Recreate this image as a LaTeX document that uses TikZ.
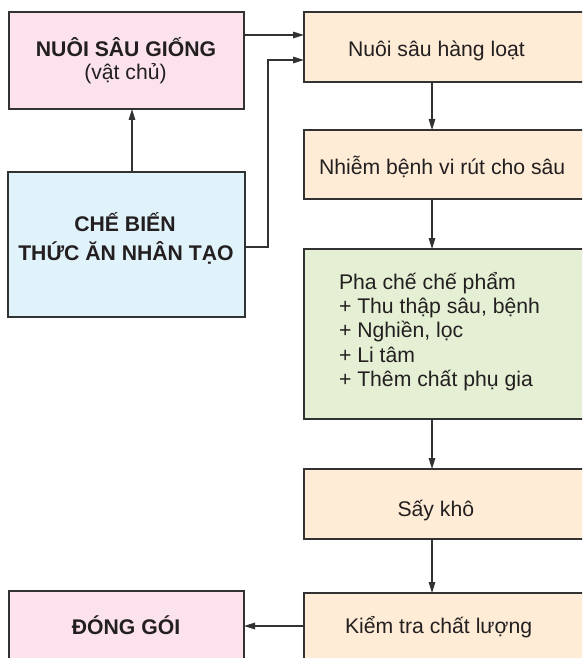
\documentclass[tikz,border=0pt]{standalone}
\usepackage{fontspec}
\setmainfont{Liberation Sans}
\usetikzlibrary{arrows.meta}
\definecolor{pinkc}{RGB}{251,226,236}
\definecolor{peachc}{RGB}{254,236,214}
\definecolor{bluec}{RGB}{224,242,250}
\definecolor{greenc}{RGB}{228,239,212}
\definecolor{linec}{RGB}{50,50,50}
\definecolor{textc}{RGB}{35,31,32}
\begin{document}
\begin{tikzpicture}[x=1pt,y=-1pt,
  box/.style={draw=linec, line width=1.3pt, inner sep=0pt, outer sep=0pt, anchor=north west},
  txt/.style={inner sep=0pt, outer sep=0pt, anchor=base west, text=textc, font=\fontsize{21.2}{24.3}\selectfont},
  ctxt/.style={txt, anchor=base},
  btxt/.style={ctxt, font=\fontsize{21.2}{24.3}\selectfont\bfseries},
  arr/.style={draw=linec, line width=1.4pt, -{Triangle[length=11pt,width=6.5pt]}}
]
\useasboundingbox (0,0) rectangle (582,658);
\clip (0,0) rectangle (582,658);
\fill[white] (0,0) rectangle (582,658);

% boxes
\node[box, fill=pinkc,  minimum width=235pt, minimum height=97pt]  (A) at (9,12) {};
\node[box, fill=bluec,  minimum width=237pt, minimum height=145pt] (C) at (8,172) {};
\node[box, fill=pinkc,  minimum width=235pt, minimum height=100pt] (D) at (9,591) {};
\node[box, fill=peachc, minimum width=300pt, minimum height=70pt]  (B) at (304,12) {};
\node[box, fill=peachc, minimum width=300pt, minimum height=69pt]  (N) at (304,130) {};
\node[box, fill=greenc, minimum width=300pt, minimum height=170pt] (G) at (304,249) {};
\node[box, fill=peachc, minimum width=300pt, minimum height=70pt]  (S) at (304,469) {};
\node[box, fill=peachc, minimum width=300pt, minimum height=100pt] (K) at (304,593) {};

% texts
\node[btxt] (tA1) at (126,56.7) {NUÔI SÂU GIỐNG};
\node[ctxt] (tA2) at (125.5,80) {(vật chủ)};
\node[btxt] (tC1) at (125,231.7) {CHẾ BIẾN};
\node[btxt] (tC2) at (126,260) {THỨC ĂN NHÂN TẠO};
\node[btxt] (tD) at (126,634) {ĐÓNG GÓI};
\node[txt] (tB) at (348,57) {Nuôi sâu hàng loạt};
\node[txt] (tN) at (319,174.3) {Nhiễm bệnh vi rút cho sâu};
\node[txt] (g1) at (339,289.3) {Pha chế chế phẩm};
\node[txt] (g2) at (339,313.6) {+ Thu thập sâu, bệnh};
\node[txt] (g3) at (339,337.9) {+ Nghiền, lọc};
\node[txt] (g4) at (339,362.2) {+ Li tâm};
\node[txt] (g5) at (339,386.5) {+ Thêm chất phụ gia};
\node[txt] (tS) at (397.5,516) {Sấy khô};
\node[txt] (tK) at (345,633.3) {Kiểm tra chất lượng};

% connectors
\coordinate (jC) at (268,60);
\draw[arr] (A.east |- 0,35) -- (B.west |- 0,35);
\draw[arr] (C.east |- 0,247) -| (jC) -- (B.west |- jC);
\draw[arr] (C.north -| 132,0) -- (A.south -| 132,0);
\draw[arr] (B.south -| 432,0) -- (N.north -| 432,0);
\draw[arr] (N.south -| 432,0) -- (G.north -| 432,0);
\draw[arr] (G.south -| 432,0) -- (S.north -| 432,0);
\draw[arr] (S.south -| 432,0) -- (K.north -| 432,0);
\draw[arr] (K.west |- 0,626) -- (D.east |- 0,626);
\end{tikzpicture}
\end{document}
